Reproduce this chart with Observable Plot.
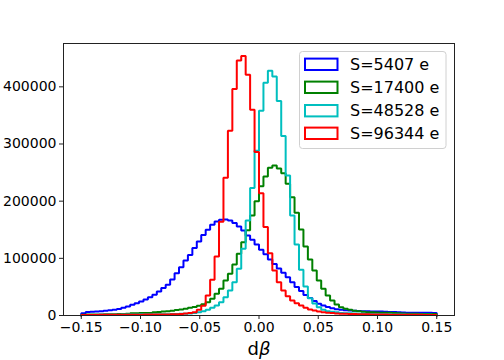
<!DOCTYPE html>
<html>
<head>
<meta charset="utf-8">
<script src="https://cdn.jsdelivr.net/npm/d3@7"></script>
<script src="https://cdn.jsdelivr.net/npm/@observablehq/plot@0.6"></script>
<style>
  html, body { margin: 0; padding: 0; background: white; }
  #chart { width: 504px; height: 360px; }
</style>
</head>
<body>
<div id="chart"></div>
<script>
// Series names and colours
const seriesNames = ["S=5407 e", "S=17400 e", "S=48528 e", "S=96344 e"];
const seriesColors = ["#0000ff", "#008000", "#00bfbf", "#ff0000"];

// Histogram bins: 80 bins from -0.15 to 0.15
const binStart = -0.15;
const binWidth = 0.00375;
const binCount = 80;

// Counts per bin
const countsS5407 = [
  4000, 6000, 6500, 6800, 7500, 8200, 9000, 10000, 11500, 13500,
  15800, 18700, 21500, 24500, 28000, 32000, 36500, 42000, 48000, 54000,
  63000, 74000, 84600, 96300, 106000, 118000, 129600, 141000, 150000, 158800,
  164600, 167500, 168000, 166300, 161600, 155800, 148800, 140000, 132500, 124000,
  115000, 107000, 98000, 90000, 82000, 75000, 67000, 58000, 50000, 43000,
  36000, 30500, 25500, 20500, 17500, 14800, 12800, 11000, 10000, 9300,
  8800, 8300, 7800, 7600, 7400, 7200, 7000, 6800, 6500, 6300,
  6000, 5500, 5200, 5000, 4800, 4700, 4700, 4600, 4600, 4500
];
const countsS17400 = [
  1500, 1600, 1700, 1800, 1900, 2000, 2200, 2400, 2600, 2800,
  3000, 4000, 4000, 4200, 4300, 4500, 5800, 6000, 7000, 7600,
  8500, 9500, 10500, 12000, 13500, 15000, 17000, 19500, 23300, 29200,
  38000, 46700, 61300, 73000, 89300, 108000, 128000, 149000, 175000, 200000,
  226000, 243000, 258600, 262600, 257000, 249000, 230600, 207000, 179800, 150600,
  120800, 98000, 78800, 61300, 46700, 35000, 26300, 19300, 14500, 11700,
  10000, 8500, 7600, 6500, 5800, 5500, 5200, 5000, 4800, 4700,
  4500, 4000, 3500, 3000, 3000, 3000, 2800, 2800, 2700, 2600
];
const countsS48528 = [
  800, 900, 1000, 1000, 1100, 1200, 1300, 1400, 1500, 1600,
  1700, 1800, 1900, 2000, 2000, 2100, 2100, 2200, 2200, 2400,
  2600, 2800, 3000, 3200, 3500, 4500, 5800, 7500, 10000, 13500,
  17500, 23300, 32000, 43800, 58300, 81700, 116800, 166300, 223000, 288000,
  358000, 407000, 428000, 418000, 375000, 314000, 245000, 175000, 124000, 80000,
  50800, 30000, 21000, 14500, 10000, 7500, 6500, 5500, 4500, 4000,
  3800, 3500, 3200, 3000, 2800, 2600, 2400, 2200, 2000, 1900,
  1800, 1700, 1600, 1500, 1400, 1300, 1200, 1200, 1100, 1000
];
const countsS96344 = [
  800, 900, 1000, 1000, 1100, 1100, 1200, 1200, 1300, 1300,
  1400, 1400, 1500, 1500, 1600, 1600, 1700, 1700, 1800, 1800,
  2000, 2200, 2800, 3500, 4500, 5800, 10000, 17000, 35000, 62500,
  103000, 164000, 241000, 323000, 396000, 446000, 454000, 421000, 360000, 286000,
  214000, 154600, 109000, 78800, 58300, 43800, 33800, 26300, 21500, 17500,
  13500, 10500, 8800, 7000, 5500, 4700, 4200, 3500, 3200, 3000,
  2800, 2600, 2400, 2200, 2000, 1900, 1800, 1700, 1600, 1500,
  1400, 1300, 1300, 1200, 1200, 1100, 1100, 1000, 1000, 1000
];
const allCounts = [countsS5407, countsS17400, countsS48528, countsS96344];

// Axis ticks
const xTicks = [-0.15, -0.10, -0.05, 0.00, 0.05, 0.10, 0.15];
const yTicks = [0, 100000, 200000, 300000, 400000];
const xLabel = "dβ";

// Build step-outline rows (matplotlib histtype="step")
const edges = d3.range(binCount + 1).map(i => binStart + i * binWidth);
const stepRows = [];
allCounts.forEach((counts, s) => {
  const name = seriesNames[s];
  stepRows.push({series: name, x: edges[0], y: 0});
  counts.forEach((v, i) => {
    stepRows.push({series: name, x: edges[i], y: v});
    stepRows.push({series: name, x: edges[i + 1], y: v});
  });
  stepRows.push({series: name, x: edges[binCount], y: 0});
});

const fmtX = d => (Math.abs(d) < 1e-9 ? "0.00" : d.toFixed(2).replace("-", "\u2212"));

const chart = Plot.plot({
  width: 504,
  height: 360,
  marginLeft: 63,
  marginRight: 50,
  marginTop: 43,
  marginBottom: 45,
  style: {fontFamily: "DejaVu Sans", fontSize: "14px", background: "white", color: "black", overflow: "visible"},
  x: {domain: [-0.165, 0.165]},
  y: {domain: [0, 475800]},
  color: {domain: seriesNames, range: seriesColors},
  marks: [
    Plot.line(stepRows, {
      x: "x", y: "y", z: "series", stroke: "series",
      strokeWidth: 2, curve: "linear", strokeLinejoin: "miter"
    }),
    Plot.frame({stroke: "#222", strokeWidth: 1}),
    Plot.axisX({ticks: xTicks, tickFormat: fmtX, tickSize: 4, tickPadding: 3, label: null, fontSize: 14, stroke: "#222"}),
    Plot.axisY({ticks: yTicks, tickFormat: d => String(d), tickSize: 4, tickPadding: 3, label: null, fontSize: 14, stroke: "#222"})
  ]
});

document.getElementById("chart").appendChild(chart);

// Legend and x label inside the SVG
const svg = d3.select(chart);
const lg = svg.append("g").attr("text-anchor", "start");
lg.append("rect")
  .attr("x", 299.5).attr("y", 51.5).attr("width", 146.5).attr("height", 97)
  .attr("rx", 3).attr("ry", 3)
  .attr("fill", "white").attr("fill-opacity", 0.8)
  .attr("stroke", "#d0d0d0").attr("stroke-width", 1);
const rowY = [64.3, 87.3, 110.7, 133.3];
seriesNames.forEach((name, i) => {
  lg.append("rect")
    .attr("x", 305).attr("y", rowY[i] - 5.7).attr("width", 32.5).attr("height", 11.4)
    .attr("fill", "none").attr("stroke", seriesColors[i]).attr("stroke-width", 2);
  lg.append("text")
    .attr("x", 350).attr("y", rowY[i])
    .attr("dy", "0.36em")
    .attr("text-anchor", "start")
    .attr("font-family", "DejaVu Sans").attr("font-size", 16)
    .attr("fill", "black")
    .text(name);
});
const xl = svg.append("text")
  .attr("x", 259).attr("y", 355)
  .attr("text-anchor", "middle")
  .attr("font-family", "DejaVu Sans").attr("font-size", 18)
  .attr("fill", "black");
xl.append("tspan").text("d");
xl.append("tspan").attr("font-style", "italic").text("β");
</script>
</body>
</html>
